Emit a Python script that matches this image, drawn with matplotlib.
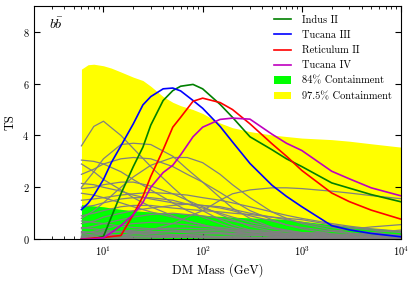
import numpy as np
import matplotlib
matplotlib.use("Agg")
import matplotlib.pyplot as plt

plt.rcParams['font.family'] = 'serif'
plt.rcParams['font.serif'] = ['cmr10', 'DejaVu Serif']
plt.rcParams['mathtext.fontset'] = 'cm'
plt.rcParams['axes.formatter.use_mathtext'] = True

# 公共质量网格 (GeV)
mass = [6, 7, 8, 10, 12, 15, 20, 25, 30, 40, 50, 60, 80, 100, 150, 200,
        300, 500, 700, 1000, 2000, 3000, 5000, 10000]

# 包络带上沿
band_975 = [6.56, 6.73, 6.75, 6.69, 6.6, 6.45, 6.25, 6.12, 5.9, 5.5, 5.28, 5.15,
            5.0, 4.85, 4.48, 4.3, 4.15, 4.02, 3.96, 3.9, 3.84, 3.78, 3.68, 3.55]
band_84 = [1.33, 1.3, 1.28, 1.25, 1.2, 1.15, 1.1, 1.07, 1.05, 1.02, 1.0, 0.99,
           0.95, 0.92, 0.88, 0.85, 0.82, 0.79, 0.76, 0.69, 0.56, 0.5, 0.42, 0.33]

# 各矮星系 TS 曲线
ts_indus = [0.0, 0.0, 0.02, 0.1, 0.85, 1.75, 2.8, 3.55, 4.4, 5.35, 5.73, 5.9,
            5.97, 5.8, 5.2, 4.7, 3.95, 3.45, 3.1, 2.8, 2.17, 1.97, 1.72, 1.44]
ts_tuc3 = [1.14, 1.38, 1.69, 2.3, 2.95, 3.6, 4.45, 5.18, 5.5, 5.8, 5.83, 5.72,
           5.35, 5.05, 4.35, 3.75, 2.92, 2.08, 1.65, 1.25, 0.52, 0.36, 0.22, 0.09]
ts_ret2 = [0.0, 0.02, 0.04, 0.06, 0.1, 0.14, 0.95, 1.65, 2.42, 3.45, 4.32, 4.7,
           5.32, 5.44, 5.27, 5.0, 4.45, 3.68, 3.2, 2.65, 1.78, 1.45, 1.12, 0.77]
ts_tuc4 = [0.0, 0.0, 0.01, 0.05, 0.25, 0.52, 0.95, 1.42, 2.0, 2.57, 2.85, 3.25,
           3.95, 4.32, 4.62, 4.67, 4.63, 4.05, 3.7, 3.42, 2.62, 2.33, 1.98, 1.67]

# 其他目标 (灰线) 的质量网格和 TS
grey_mass = [6, 8, 10, 15, 20, 30, 50, 70, 100, 150, 200, 300, 500, 700,
             1000, 2000, 3000, 5000, 10000]
grey_ts = [
    [3.6, 4.35, 4.55, 4.0, 3.5, 2.8, 2.0, 1.5, 1.1, 0.75, 0.55, 0.35, 0.2, 0.14, 0.1, 0.05, 0.03, 0.02, 0.01],
    [2.0, 2.6, 3.1, 3.65, 3.7, 3.65, 3.2, 2.7, 2.2, 1.6, 1.2, 0.8, 0.45, 0.3, 0.2, 0.1, 0.07, 0.04, 0.02],
    [3.05, 3.0, 2.9, 2.6, 2.3, 1.9, 1.4, 1.1, 0.85, 0.6, 0.45, 0.3, 0.18, 0.12, 0.08, 0.04, 0.03, 0.02, 0.01],
    [0.8, 1.1, 1.4, 2.0, 2.4, 2.85, 3.15, 3.15, 2.95, 2.5, 2.1, 1.6, 1.05, 0.8, 0.6, 0.35, 0.25, 0.15, 0.08],
    [0.05, 0.08, 0.1, 0.15, 0.22, 0.35, 0.6, 0.85, 1.1, 1.5, 1.75, 1.9, 1.98, 1.98, 1.95, 1.85, 1.78, 1.68, 1.56],
    [2.15, 2.1, 2.0, 1.85, 1.7, 1.55, 1.4, 1.35, 1.3, 1.25, 1.15, 1.0, 0.85, 0.75, 0.65, 0.45, 0.35, 0.25, 0.15],
    [1.95, 2.0, 2.1, 2.2, 2.2, 2.05, 1.75, 1.5, 1.25, 0.95, 0.75, 0.5, 0.3, 0.2, 0.13, 0.06, 0.04, 0.02, 0.01],
    [1.77, 1.7, 1.6, 1.4, 1.25, 1.05, 0.85, 0.7, 0.55, 0.4, 0.3, 0.2, 0.12, 0.08, 0.05, 0.03, 0.02, 0.01, 0.0],
    [1.23, 1.3, 1.4, 1.55, 1.6, 1.6, 1.5, 1.35, 1.2, 1.0, 0.85, 0.65, 0.45, 0.35, 0.25, 0.15, 0.1, 0.06, 0.03],
    [0.0, 0.0, 0.0, 0.02, 0.03, 0.05, 0.07, 0.08, 0.1, 0.1, 0.12, 0.13, 0.15, 0.17, 0.2, 0.3, 0.38, 0.47, 0.56],
    [0.9, 1.0, 1.1, 1.25, 1.3, 1.3, 1.2, 1.15, 1.1, 1.05, 1.0, 0.95, 0.85, 0.8, 0.75, 0.55, 0.45, 0.35, 0.25],
    [0.6, 0.7, 0.85, 1.0, 1.1, 1.2, 1.3, 1.35, 1.3, 1.2, 1.1, 0.9, 0.7, 0.55, 0.45, 0.3, 0.22, 0.15, 0.1],
    [0.4, 0.5, 0.6, 0.75, 0.85, 0.95, 1.0, 0.95, 0.9, 0.8, 0.7, 0.55, 0.4, 0.32, 0.25, 0.15, 0.1, 0.07, 0.04],
    [2.9, 2.6, 2.3, 1.9, 1.6, 1.25, 0.9, 0.7, 0.55, 0.4, 0.3, 0.2, 0.12, 0.08, 0.05, 0.03, 0.02, 0.01, 0.0],
    [0.2, 0.3, 0.4, 0.55, 0.6, 0.65, 0.6, 0.55, 0.5, 0.45, 0.4, 0.35, 0.3, 0.28, 0.25, 0.2, 0.18, 0.15, 0.12],
    [0.1, 0.15, 0.2, 0.3, 0.35, 0.4, 0.42, 0.42, 0.4, 0.38, 0.35, 0.3, 0.25, 0.22, 0.2, 0.15, 0.12, 0.1, 0.08],
    [0.7, 0.65, 0.6, 0.5, 0.45, 0.4, 0.35, 0.3, 0.28, 0.25, 0.22, 0.2, 0.18, 0.17, 0.16, 0.14, 0.13, 0.12, 0.1],
    [1.5, 1.55, 1.6, 1.7, 1.75, 1.8, 1.75, 1.7, 1.6, 1.5, 1.4, 1.25, 1.05, 0.92, 0.8, 0.6, 0.5, 0.4, 0.3],
    [0.3, 0.25, 0.2, 0.15, 0.12, 0.1, 0.08, 0.07, 0.06, 0.05, 0.04, 0.04, 0.04, 0.05, 0.06, 0.1, 0.15, 0.25, 0.35],
    [2.5, 2.7, 2.9, 3.1, 3.15, 3.1, 2.8, 2.5, 2.2, 1.8, 1.5, 1.1, 0.75, 0.55, 0.4, 0.2, 0.13, 0.08, 0.04],
    [0.15, 0.2, 0.25, 0.3, 0.3, 0.3, 0.28, 0.25, 0.22, 0.2, 0.18, 0.15, 0.12, 0.1, 0.08, 0.06, 0.05, 0.04, 0.03],
    [0.05, 0.05, 0.06, 0.08, 0.1, 0.12, 0.15, 0.18, 0.2, 0.22, 0.22, 0.2, 0.18, 0.16, 0.14, 0.1, 0.08, 0.06, 0.05],
    [0.02, 0.03, 0.04, 0.06, 0.08, 0.1, 0.12, 0.13, 0.12, 0.1, 0.08, 0.06, 0.05, 0.04, 0.04, 0.03, 0.03, 0.02, 0.02],
    [0.45, 0.4, 0.35, 0.28, 0.22, 0.16, 0.1, 0.07, 0.05, 0.04, 0.03, 0.02, 0.02, 0.01, 0.01, 0.01, 0.0, 0.0, 0.0],
    [0.08, 0.1, 0.12, 0.16, 0.2, 0.25, 0.3, 0.32, 0.33, 0.32, 0.3, 0.27, 0.22, 0.2, 0.18, 0.12, 0.09, 0.06, 0.04],
    [0.25, 0.27, 0.28, 0.28, 0.26, 0.22, 0.18, 0.15, 0.12, 0.09, 0.08, 0.07, 0.06, 0.06, 0.07, 0.08, 0.09, 0.1, 0.12],
]

fig = plt.figure(figsize=(4.16, 2.81), dpi=100)
ax = fig.add_axes([0.082, 0.149, 0.882, 0.830])

ax.fill_between(mass, 0, band_975, color='#ffff00', lw=0, label='97.5% Containment')
ax.fill_between(mass, 0, band_84, color='#00ff00', lw=0, label='84% Containment')

for g in grey_ts:
    ax.plot(grey_mass, g, color='#808080', lw=0.9)

ax.plot(mass, ts_indus, color=(0, 0.5, 0), lw=1.2, label='Indus II')
ax.plot(mass, ts_tuc3, color='#0000ff', lw=1.2, label='Tucana III')
ax.plot(mass, ts_ret2, color='#ff0000', lw=1.2, label='Reticulum II')
ax.plot(mass, ts_tuc4, color=(0.75, 0, 0.75), lw=1.2, label='Tucana IV')

ax.set_xscale('log')
ax.set_xlim(2, 1e4)
ax.set_ylim(0, 9)
ax.set_yticks([0, 2, 4, 6, 8])
ax.tick_params(which='both', direction='in', top=True, right=True, labelsize=7.5)
ax.tick_params(which='major', length=4)
ax.tick_params(which='minor', length=2)
ax.set_xlabel('DM Mass (GeV)', fontsize=9)
ax.set_ylabel('TS', fontsize=9)
ax.text(0.04, 0.92, r'$b\bar{b}$', transform=ax.transAxes, fontsize=10, va='center')

h, l = ax.get_legend_handles_labels()
order = [2, 3, 4, 5, 1, 0]
ax.legend([h[i] for i in order], [l[i] for i in order], loc='upper right',
          frameon=False, fontsize=7.5, handlelength=1.7, handletextpad=1.0,
          labelspacing=0.55, borderaxespad=0.5)

fig.savefig('out.png', dpi=100)
